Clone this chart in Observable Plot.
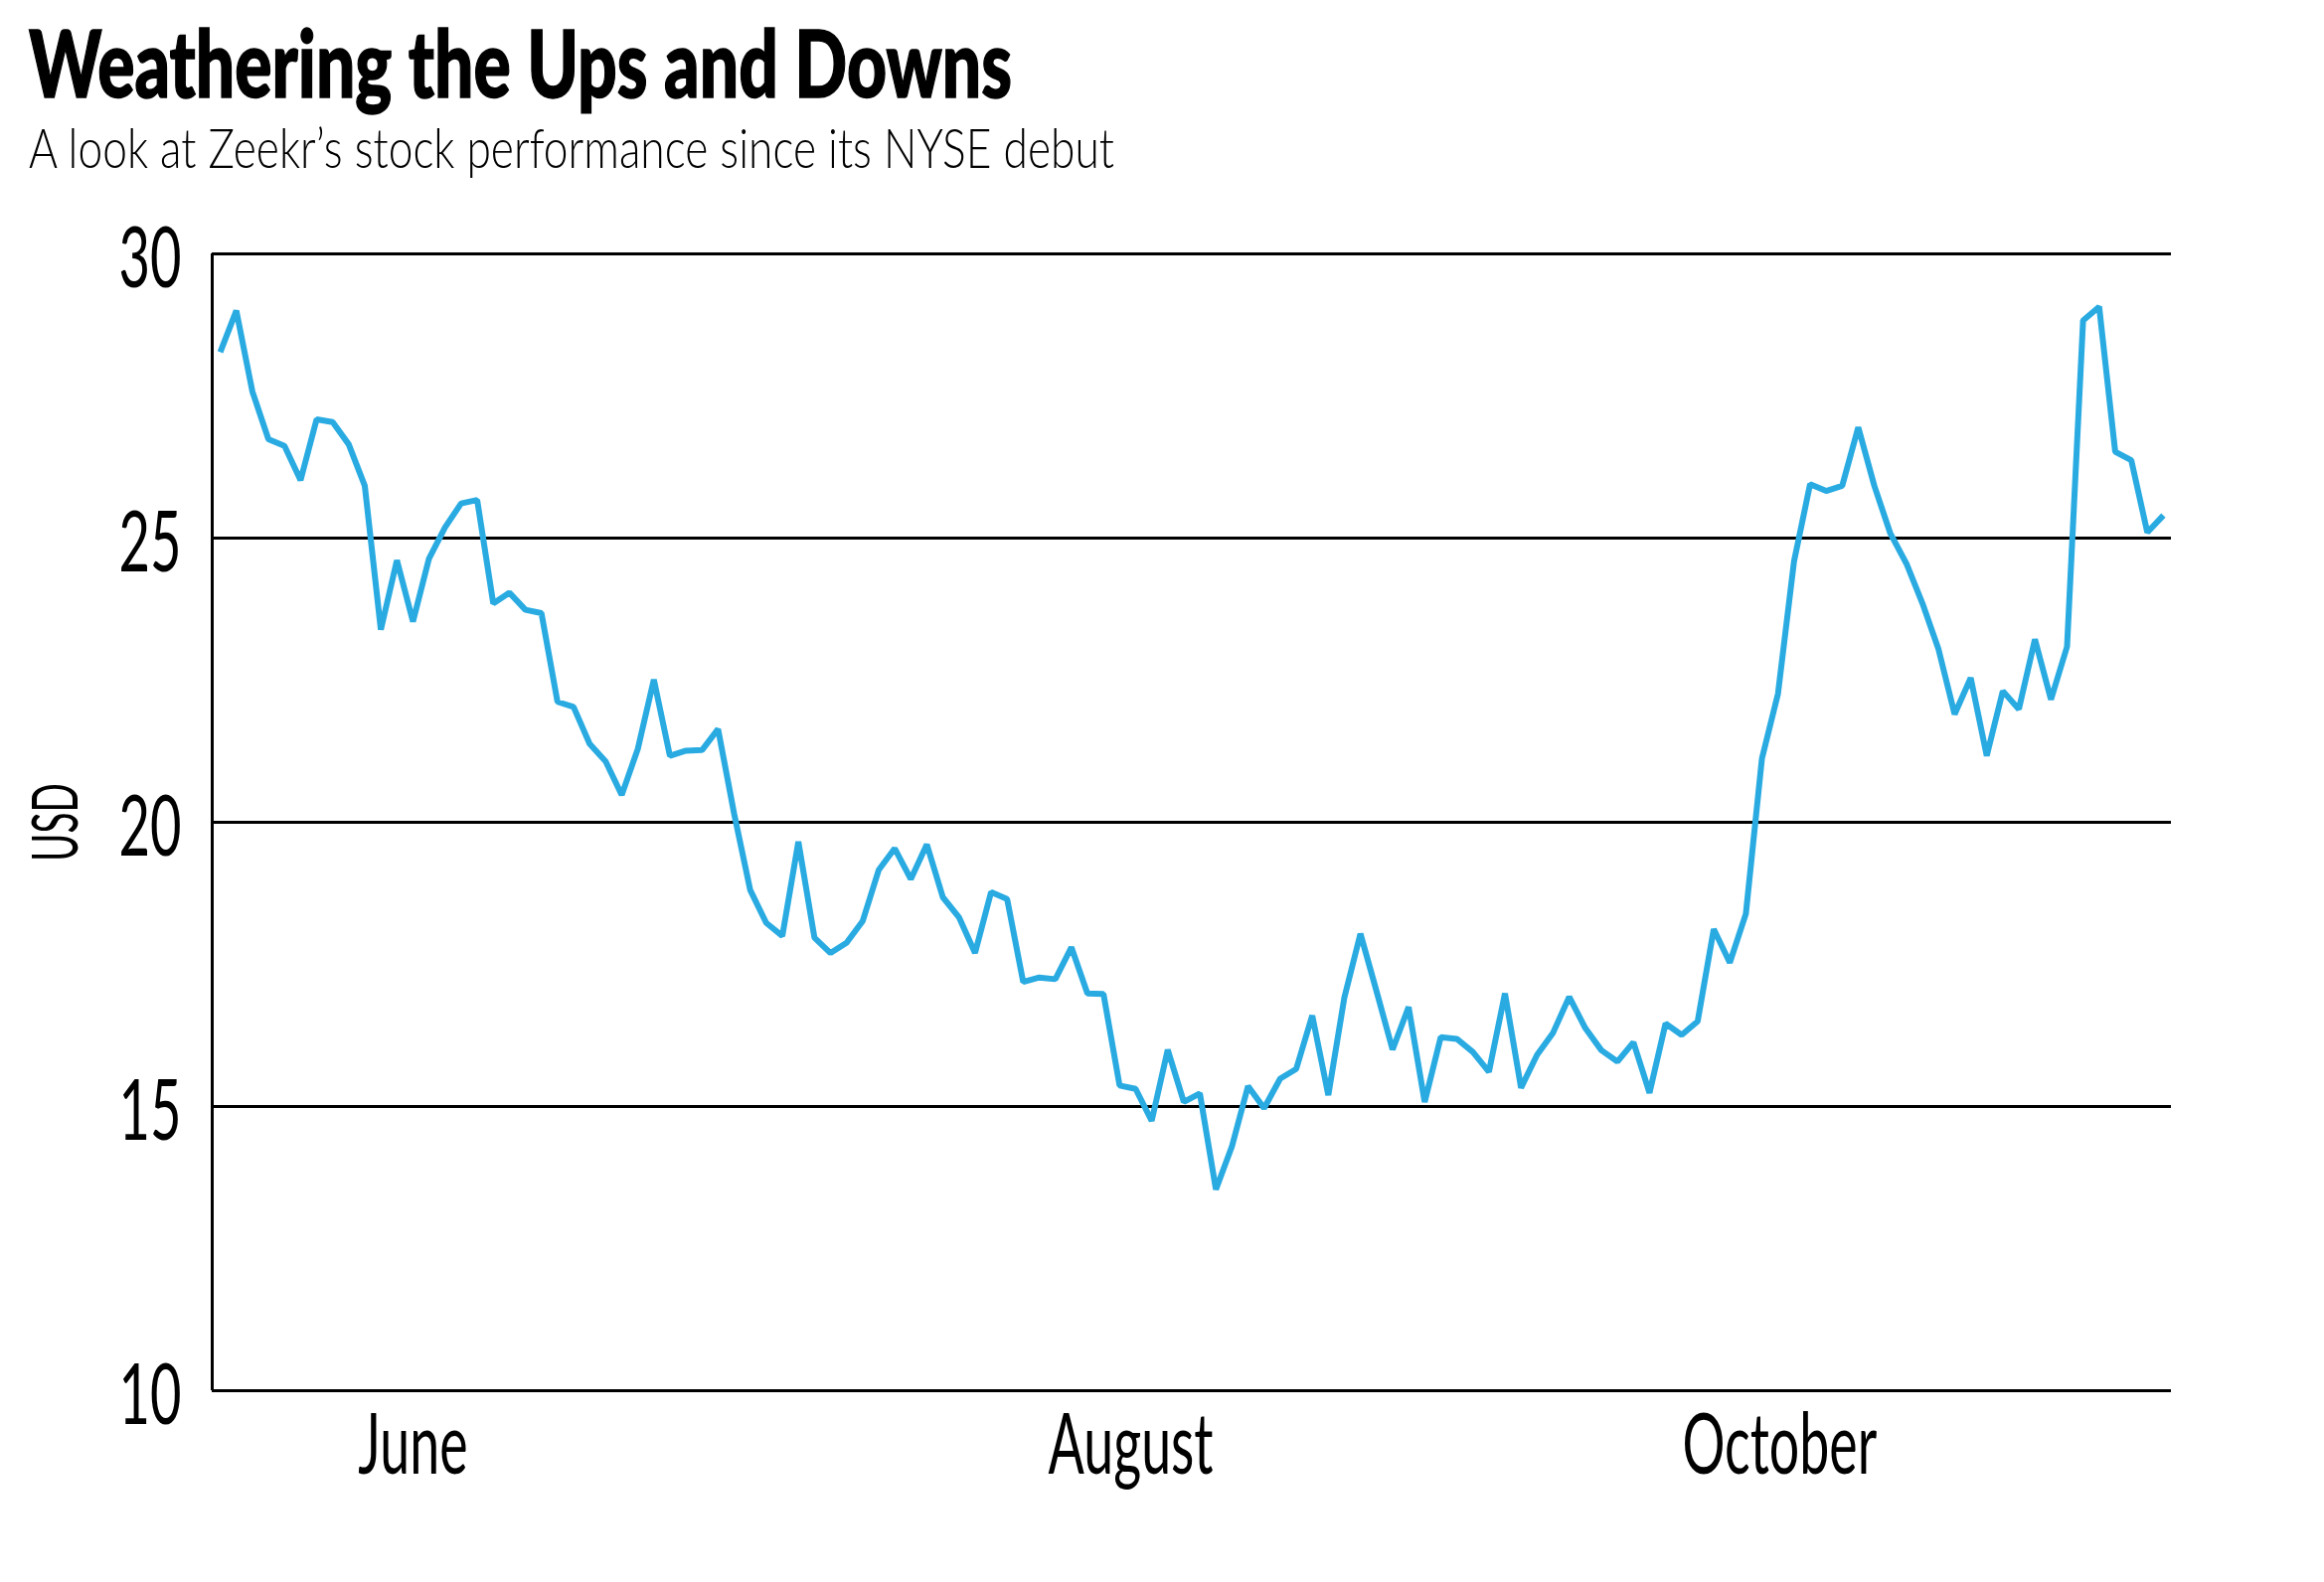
<!DOCTYPE html>
<html>
<head>
<meta charset="utf-8">
<script src="https://cdn.jsdelivr.net/npm/d3@7"></script>
<script src="https://cdn.jsdelivr.net/npm/@observablehq/plot@0.6"></script>
<style>
  html, body { margin: 0; padding: 0; background: white; }
  #head { position: relative; width: 2338px; height: 190px; }
  #title { position: absolute; left: 29px; top: 24px; font: 900 94px/0.8 Lato, "Open Sans", sans-serif; white-space: nowrap; transform-origin: 0 0; color: #000; -webkit-text-stroke: 1.5px #000; }
  #sub { position: absolute; left: 29px; top: 126px; font: 300 56px/0.8 Lato, "Open Sans", sans-serif; white-space: nowrap; transform-origin: 0 0; color: #000; }
</style>
</head>
<body>
<div id="head">
  <div id="title">Weathering the Ups and Downs</div>
  <div id="sub">A look at Zeekr’s stock performance since its NYSE debut</div>
</div>
<div id="chart"></div>
<script>
// Zeekr (ZK) daily closing price, USD, one value per trading day since the NYSE debut
const prices = [
  28.27, 29.00, 27.58, 26.74, 26.62, 26.02, 27.09, 27.04, 26.65, 25.92,
  23.39, 24.61, 23.53, 24.64, 25.19, 25.61, 25.67, 23.85, 24.04, 23.74,
  23.68, 22.12, 22.03, 21.38, 21.07, 20.48, 21.29, 22.51, 21.17, 21.26,
  21.27, 21.64, 20.15, 18.81, 18.23, 18.00, 19.66, 17.97, 17.70, 17.88,
  18.26, 19.16, 19.54, 19.00, 19.61, 18.68, 18.33, 17.70, 18.77, 18.65,
  17.19, 17.27, 17.24, 17.80, 16.99, 16.98, 15.37, 15.31, 14.75, 16.00,
  15.08, 15.23, 13.54, 14.30, 15.36, 14.97, 15.49, 15.66, 16.60, 15.20,
  16.92, 18.04, 17.03, 16.00, 16.75, 15.08, 16.22, 16.19, 15.96, 15.61,
  16.99, 15.33, 15.91, 16.30, 16.93, 16.38, 15.99, 15.79, 16.13, 15.24,
  16.46, 16.26, 16.50, 18.12, 17.53, 18.39, 21.12, 22.26, 24.59, 25.95,
  25.83, 25.92, 26.95, 25.92, 25.08, 24.55, 23.85, 23.04, 21.90, 22.54,
  21.17, 22.31, 21.99, 23.22, 22.16, 23.09, 28.83, 29.07, 26.52, 26.37,
  25.10, 25.40
];
// x-axis tick positions (trading-day index) and their labels
const xTickPos = [12, 56.7, 97.1];
const xTickLabels = ["June", "August", "October"];
// y-axis ticks
const yTicks = [10, 15, 20, 25, 30];
const yDomain = [10, 30];
const xDomain = [-0.5, prices.length - 0.5];
const lineColor = "#29abe2";

const chart = Plot.plot({
  width: 2338,
  height: 1359,
  marginLeft: 213,
  marginRight: 154,
  marginTop: 65,
  marginBottom: 150,
  x: {domain: xDomain},
  y: {domain: yDomain},
  style: {fontFamily: "Lato, 'Open Sans', sans-serif", color: "black", background: "white", overflow: "visible"},
  marks: [
    Plot.gridY(yTicks, {stroke: "black", strokeOpacity: 1, strokeWidth: 3}),
    Plot.ruleX([xDomain[0]], {stroke: "black", strokeWidth: 3}),
    Plot.axisY(yTicks, {
      tickSize: 0, tickPadding: 31, fontSize: 86, dy: 6,
      tickFormat: d => String(d),
      label: "USD", labelAnchor: "center", labelOffset: 180, labelArrow: "none"
    }),
    Plot.axisX(xTickPos, {
      tickSize: 0, tickPadding: 22, fontSize: 86, label: null,
      tickFormat: d => xTickLabels[xTickPos.indexOf(d)]
    }),
    Plot.line(prices, {
      x: (d, i) => i, y: d => d, stroke: lineColor, strokeWidth: 6,
      strokeLinejoin: "miter", strokeLinecap: "butt"
    })
  ]
});
document.getElementById("chart").appendChild(chart);

// Condense text to mimic the narrow typeface of the original
function condense(texts, refText, targetWidth) {
  if (!texts.length) return;
  const ref = refText || texts[0];
  const w = ref.getBBox().width;
  if (!w) return;
  const s = targetWidth / w;
  for (const t of texts) {
    const b = t.getBBox();
    const anchor = getComputedStyle(t).textAnchor;
    const ax = anchor === "middle" ? b.x + b.width / 2 : anchor === "end" ? b.x + b.width : b.x;
    const prev = t.getAttribute("transform") || "";
    t.setAttribute("transform", `${prev} translate(${ax},0) scale(${s},1) translate(${-ax},0)`);
  }
}
function fit() {
  for (const [id, target] of [["title", 989], ["sub", 1092]]) {
    const el = document.getElementById(id);
    el.style.transform = "none";
    const w = el.getBoundingClientRect().width;
    el.style.transform = `scaleX(${target / w})`;
  }
}
fit();
const xt = [...chart.querySelectorAll('g[aria-label="x-axis tick label"] text')];
condense(xt, xt.find(t => t.textContent === "August"), 166);
const yt = [...chart.querySelectorAll('g[aria-label="y-axis tick label"] text')];
condense(yt, yt.find(t => t.textContent === "30"), 63);
const yl = [...chart.querySelectorAll('g[aria-label="y-axis label"] text')];
yl.forEach(t => { t.setAttribute("font-size", 63); t.style.fontSize = "63px"; });
condense(yl, yl[0], 79);
if (document.fonts && document.fonts.ready) document.fonts.ready.then(fit);
</script>
</body>
</html>
